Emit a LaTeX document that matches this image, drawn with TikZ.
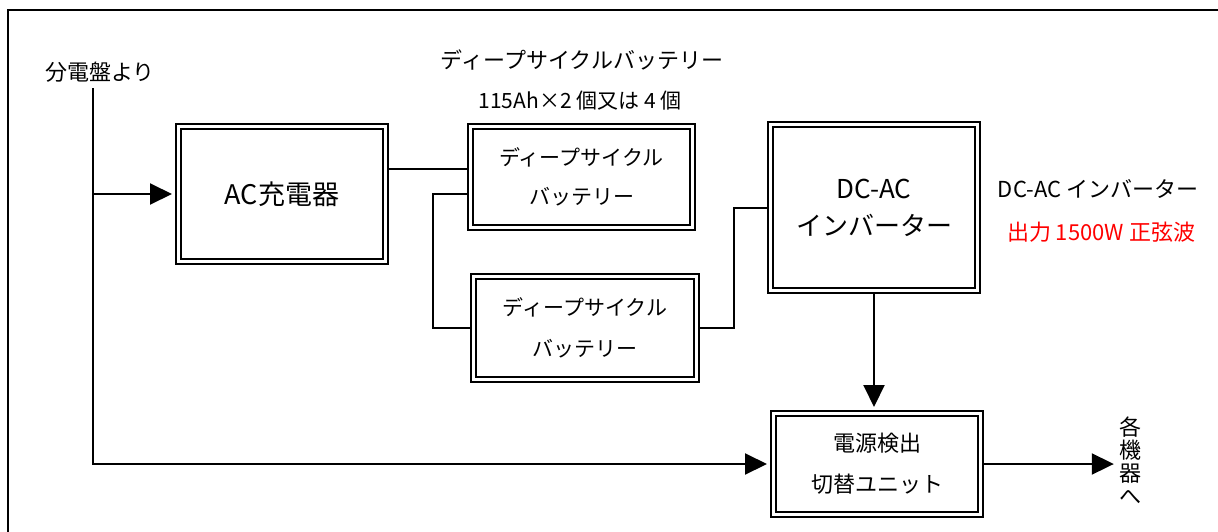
\documentclass[tikz,border=0pt]{standalone}
\usepackage{fontspec}
\setmainfont{Noto Sans CJK JP}
\usetikzlibrary{arrows.meta}

\tikzset{
  ->/.style={draw=black,line width=2pt,shorten >=3pt,-{Triangle[length=22pt,width=21pt]}},
  wire/.style={draw=black,line width=2pt},
  box/.style={draw,double,line width=2pt,double distance=3pt,fill=white,
    outer sep=3.5pt,inner sep=0pt,align=center}
}
\tikzstyle{every node}=[color=black,font=\fontsize{22}{26}\selectfont]

\begin{document}
\begin{tikzpicture}[x=1pt,y=-1pt]
    \useasboundingbox (0,0) rectangle (1218,531);
    \draw [line width=1.5pt] (8,545) -- (8,10) -- (1230,10);
    \node (S) at (100,72) {分電盤より};
    \coordinate (P) at (93,88);
    \node [box,minimum width=207pt,minimum height=135pt,font=\fontsize{27}{32}\selectfont] (AC) at (282,194) {AC充電器};
    \node (T1) at (582,60) {ディープサイクルバッテリー};
    \node [font=\fontsize{21}{26}\selectfont] (T2) at (580,101) {115Ah×2 個又は 4 個};
    \node [box,minimum width=222pt,minimum height=101pt,font=\fontsize{21}{39}\selectfont] (B1) at (581.5,177) {ディープサイクル\\バッテリー};
    \node [box,minimum width=223pt,minimum height=103pt,font=\fontsize{21}{41}\selectfont] (B2) at (585,328) {ディープサイクル\\バッテリー};
    \node [box,minimum width=207pt,minimum height=166pt,font=\fontsize{26}{37}\selectfont] (INV) at (874,207.5) {DC-AC\\インバーター};
    \node (L1) at (1098,189) {DC-AC インバーター};
    \node [color=red] (L2) at (1101,232) {出力 1500W 正弦波};
    \node [box,minimum width=207pt,minimum height=101pt,font=\fontsize{22}{41}\selectfont] (SW) at (877,464) {電源検出\\切替ユニット};
    \node [align=center,inner sep=2pt,font=\fontsize{22}{23}\selectfont] (D) at (1130,461) {各\\機\\器\\へ};
    \draw [->] (P |- AC.west) -- (AC.west);
    \draw [->] (P) |- (SW.west);
    \draw [wire] ([yshift=25pt]AC.east) -- ([yshift=25pt]AC.east -| B1.west);
    \draw [wire] ([yshift=-17pt]B1.west) -- ++(-34,0) |- (B2.west);
    \draw [wire] (B2.east) -- ++(34,0) |- (INV.west);
    \draw [->] (INV.south) -- (INV.south |- SW.north);
    \draw [->] (SW.east) -- (SW.east -| D.west);
\end{tikzpicture}
\end{document}
